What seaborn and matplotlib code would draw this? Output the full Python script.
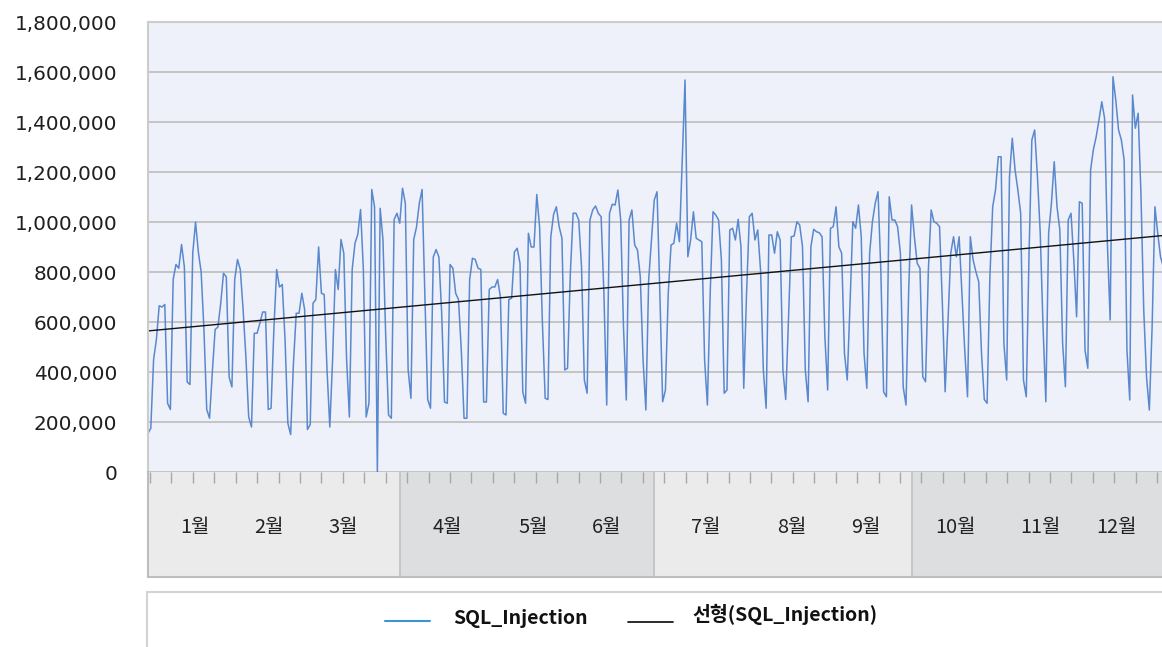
import numpy as np
import pandas as pd
import matplotlib
matplotlib.use('Agg')
import matplotlib.pyplot as plt
from matplotlib.lines import Line2D
from matplotlib.patches import Rectangle
from matplotlib.ticker import FuncFormatter
import seaborn as sns

# daily SQL_Injection counts (thousands), one list per quarter
q1 = [155, 175, 450, 530, 665, 660, 670, 275, 250, 770,
      830, 815, 910, 820, 360, 350, 875, 1000, 880, 800,
      570, 250, 215, 400, 570, 580, 675, 795, 780, 380,
      340, 770, 850, 810, 650, 460, 220, 180, 555, 555,
      595, 640, 640, 250, 255, 570, 810, 740, 750, 530,
      195, 150, 435, 635, 635, 715, 650, 170, 190, 675,
      690, 900, 715, 710, 410, 180, 450, 810, 730, 930,
      875, 450, 220, 810, 915, 950, 1050, 810, 220, 275,
      1130, 1060, 0, 1055, 930, 540, 228, 215, 1010, 1035]
q2 = [995, 1135, 1075, 410, 295, 930, 980, 1075, 1130, 700,
      290, 255, 860, 890, 860, 635, 280, 275, 830, 815,
      715, 690, 490, 215, 215, 770, 855, 850, 815, 810,
      280, 280, 730, 740, 740, 770, 700, 235, 228, 690,
      695, 880, 895, 835, 320, 275, 955, 900, 900, 1110,
      980, 600, 295, 290, 940, 1030, 1061, 981, 935, 408,
      415, 795, 1035, 1035, 1008, 820, 368, 315, 1008, 1048,
      1064, 1035, 1021, 715, 268, 1035, 1071, 1068, 1128, 1008,
      581, 288, 1008, 1048, 908, 888, 781, 448, 248, 768,
      928]
q3 = [1088, 1121, 715, 281, 328, 715, 908, 915, 995, 921,
      1248, 1568, 861, 928, 1041, 935, 928, 921, 448, 268,
      715, 1041, 1028, 1008, 848, 315, 328, 968, 975, 928,
      1011, 901, 335, 715, 1021, 1035, 928, 968, 808, 408,
      255, 948, 948, 875, 961, 928, 408, 290, 620, 941,
      944, 1001, 988, 901, 408, 281, 901, 971, 961, 957,
      941, 541, 328, 975, 981, 1061, 901, 875, 475, 368,
      675, 1001, 975, 1068, 941, 475, 335, 875, 1001, 1075,
      1121, 808, 321, 301, 1101, 1008, 1008, 981, 875, 341,
      268, 741]
q4 = [1068, 941, 835, 815, 381, 361, 808, 1048, 1001, 995,
      981, 675, 321, 600, 875, 941, 861, 941, 715, 488,
      301, 941, 848, 801, 761, 475, 290, 275, 781, 1061,
      1128, 1261, 1261, 515, 368, 1181, 1335, 1208, 1128, 1035,
      368, 301, 875, 1328, 1368, 1181, 955, 581, 281, 955,
      1075, 1241, 1061, 968, 515, 341, 1008, 1035, 848, 621,
      1081, 1075, 488, 415, 1208, 1290, 1341, 1408, 1481, 1415,
      915, 608, 1581, 1488, 1368, 1328, 1248, 488, 288, 1508,
      1375, 1435, 1115, 648, 381, 248, 581, 1061, 955, 861,
      820, 800]

months = ['1월', '2월', '3월', '4월', '5월', '6월',
          '7월', '8월', '9월', '10월', '11월', '12월']
month_days = [31, 28, 31, 30, 31, 30, 31, 31, 30, 31, 30, 31]
series_name = 'SQL_Injection'
trend_name = '선형(SQL_Injection)'
yticks = list(range(0, 1800001, 200000))

W, H = 1162, 647
PX_DAY = 2.797
X0, TOP, BOT, BAND = 148, 22, 472, 577
CJK = ['Noto Sans CJK KR', 'DejaVu Sans']


def fx(x):
    return x / W


def fy(y):
    return 1 - y / H


values = np.array(q1 + q2 + q3 + q4) * 1000
df = pd.DataFrame({'day': np.arange(len(values)), 'count': values})
n_days = sum(month_days)
span = n_days * PX_DAY

sns.set_style('white')
plt.rcParams['font.family'] = ['DejaVu Sans', 'Noto Sans CJK KR']

fig = plt.figure(figsize=(W / 100, H / 100), dpi=100)

# main plot
ax = fig.add_axes([fx(X0), fy(BOT), span / W, (BOT - TOP) / H])
ax.set_facecolor('#EEF1F9')
ax.set_xlim(0, n_days)
ax.set_ylim(0, 1800000)
sns.lineplot(data=df, x='day', y='count', ax=ax, color='#5A88CF', lw=1.1)
sns.regplot(data=df, x='day', y='count', ax=ax, scatter=False, ci=None,
            truncate=False, color='#111111', line_kws={'lw': 1.0})
ax.set_xlim(0, n_days)
ax.set_ylim(0, 1800000)
ax.set_yticks(yticks)
ax.yaxis.set_major_formatter(FuncFormatter(lambda v, p: f'{int(v):,}'))
ax.set_xticks([])
ax.set_xlabel('')
ax.set_ylabel('')
ax.yaxis.grid(True, color='#C4C4C4', lw=1.4)
ax.set_axisbelow(True)
ax.tick_params(axis='y', length=0, pad=22, labelsize=14.4, labelcolor='#1F1F1F')
for s in ['right', 'bottom']:
    ax.spines[s].set_visible(False)
for s in ['left', 'top']:
    ax.spines[s].set_color('#CCCCCC')
    ax.spines[s].set_linewidth(1.5)

# category band with quarters
bx = fig.add_axes([fx(X0), fy(BAND), span / W, (BAND - BOT) / H])
bx.set_xlim(0, n_days)
bx.set_ylim(0, 1)
bounds = np.cumsum([0] + month_days)[::3]
for i in range(4):
    bx.axvspan(bounds[i], bounds[i + 1], color=['#EBEBEB', '#DDDEE0'][i % 2], lw=0)
bx.vlines(bounds[1:-1], 0, 1, color='#C3C3C3', lw=1.3)
tick_days = (np.arange(48) * 21.43 + 2) / PX_DAY
bx.vlines(tick_days, 0.895, 1.0, color='#A8A8A8', lw=1)
label_px = [195, 269, 343, 447, 533, 607, 706, 792, 866, 955, 1040, 1116]
for m, p in zip(months, label_px):
    bx.text((p - X0) / PX_DAY, 0.467, m, ha='center', va='center',
            family=CJK, size=14.4, color='#222222')
bx.set_xticks([])
bx.set_yticks([])
for s in ['top', 'right']:
    bx.spines[s].set_visible(False)
for s in ['left', 'bottom']:
    bx.spines[s].set_color('#BDBDBD')
    bx.spines[s].set_linewidth(1.5)

# legend box
fig.add_artist(Rectangle((fx(147), fy(670)), (1180 - 147) / W, (670 - 592) / H,
                         transform=fig.transFigure, facecolor='white',
                         edgecolor='#D3D3D3', lw=1.5))
fig.add_artist(Line2D([fx(385), fx(430)], [fy(621), fy(621)],
                      transform=fig.transFigure, color='#3C95D0', lw=1.5))
fig.add_artist(Line2D([fx(628), fx(673)], [fy(622), fy(622)],
                      transform=fig.transFigure, color='#1A1A1A', lw=1.3))
fig.text(fx(453), fy(618), series_name, va='center', ha='left', weight='bold',
         size=14, family=CJK, color='#111111')
fig.text(fx(692), fy(614), trend_name, va='center', ha='left', weight='bold',
         size=14, family=CJK, color='#111111')

fig.savefig('out.png', dpi=100)
